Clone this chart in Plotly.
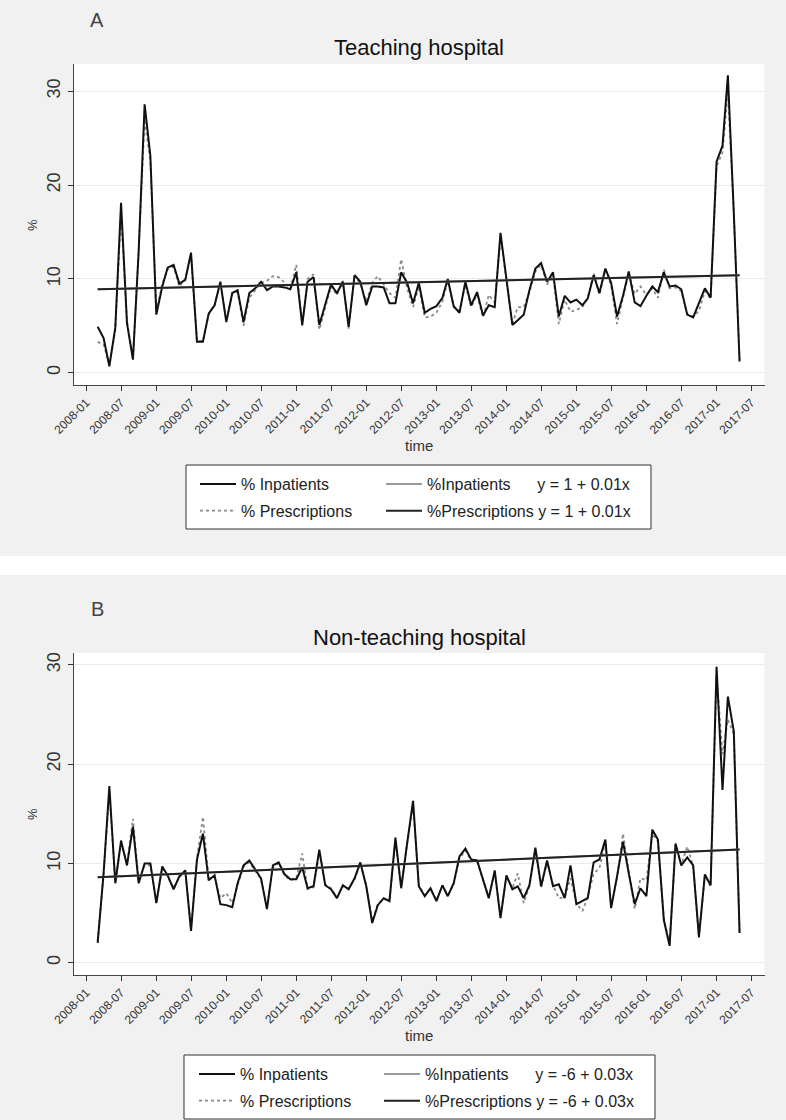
import pandas as pd
import plotly.graph_objects as go

# ---------------- data ----------------
months = pd.date_range("2008-03-01", "2017-05-01", freq="MS")  # monthly, 111 points

a_inpatients = [
    4.9, 3.7, 0.7, 4.8, 18.1, 5.3, 1.4, 13.0, 28.6, 23.1,
    6.2, 9.2, 11.2, 11.5, 9.5, 9.9, 12.8, 3.3, 3.3, 6.3,
    7.2, 9.7, 5.4, 8.5, 8.8, 5.4, 8.5, 9.0, 9.7, 8.8,
    9.2, 9.2, 9.1, 8.9, 10.7, 5.1, 9.7, 10.2, 5.1, 7.2,
    9.4, 8.5, 9.7, 4.9, 10.4, 9.7, 7.2, 9.2, 9.2, 9.1,
    7.4, 7.4, 10.7, 9.6, 7.4, 9.6, 6.4, 6.8, 7.1, 8.0,
    10.0, 7.1, 6.4, 9.7, 7.2, 8.6, 6.1, 7.2, 7.0, 14.9,
    10.1, 5.1, 5.6, 6.2, 8.8, 11.1, 11.7, 9.7, 10.7, 6.0,
    8.2, 7.5, 7.8, 7.2, 7.9, 10.4, 8.5, 11.1, 9.6, 6.0,
    8.2, 10.8, 7.5, 7.1, 8.2, 9.2, 8.6, 10.7, 9.2, 9.3,
    8.9, 6.2, 5.9, 7.4, 9.0, 8.0, 22.5, 24.2, 31.7, 17.0,
    1.2,
]
a_prescriptions = [
    3.3, 3.0, 0.9, 4.5, 17.0, 5.5, 1.6, 13.0, 27.0, 22.5,
    6.5, 9.5, 11.0, 11.3, 9.2, 10.0, 12.5, 3.4, 3.4, 6.2,
    7.3, 9.5, 5.6, 8.4, 8.6, 5.0, 8.0, 8.8, 9.6, 9.8,
    10.3, 10.2, 9.6, 9.0, 11.5, 5.0, 10.0, 10.5, 4.6, 7.0,
    9.2, 8.3, 9.8, 4.7, 10.3, 9.5, 7.6, 9.6, 10.3, 9.4,
    8.5, 8.0, 12.1, 9.0, 7.0, 9.2, 5.9, 6.0, 6.4, 7.6,
    9.8, 7.0, 6.6, 9.4, 7.0, 8.3, 5.9, 8.3, 7.5, 14.5,
    10.0, 5.2, 7.0, 7.0, 8.6, 10.8, 11.5, 9.4, 10.5, 5.2,
    7.8, 6.5, 6.7, 7.0, 8.0, 10.6, 8.3, 11.0, 9.3, 5.2,
    8.0, 10.6, 8.4, 9.2, 8.3, 9.0, 8.0, 11.0, 9.0, 9.1,
    8.7, 6.3, 6.0, 6.6, 8.7, 7.9, 22.0, 23.5, 30.0, 17.0,
    1.3,
]
b_inpatients = [
    2.0, 9.0, 17.8, 8.0, 12.3, 9.8, 13.7, 8.0, 10.0, 10.0,
    6.0, 9.7, 8.8, 7.4, 8.7, 9.3, 3.2, 10.4, 13.0, 8.3,
    8.8, 5.9, 5.8, 5.6, 8.0, 9.8, 10.3, 9.4, 8.5, 5.4,
    9.8, 10.1, 8.9, 8.4, 8.4, 9.6, 7.5, 7.7, 11.4, 7.8,
    7.4, 6.5, 7.8, 7.4, 8.5, 10.1, 7.7, 4.0, 5.8, 6.5,
    6.2, 12.6, 7.5, 12.0, 16.3, 7.7, 6.7, 7.5, 6.2, 7.8,
    6.7, 8.0, 10.7, 11.5, 10.4, 10.3, 8.4, 6.5, 9.3, 4.5,
    8.8, 7.4, 7.7, 6.5, 7.8, 11.6, 7.7, 10.3, 7.7, 7.9,
    6.5, 9.8, 5.9, 6.2, 6.5, 10.1, 10.4, 12.4, 5.5, 8.7,
    12.2, 9.0, 5.9, 7.5, 6.7, 13.4, 12.4, 4.3, 1.7, 12.0,
    9.8, 10.6, 9.8, 2.6, 8.9, 7.8, 29.8, 17.4, 26.8, 23.3,
    3.0,
]
b_prescriptions = [
    2.2, 9.0, 17.0, 8.3, 12.0, 10.0, 14.5, 8.2, 9.8, 9.8,
    6.2, 9.5, 8.7, 7.5, 8.6, 9.2, 3.4, 10.5, 14.7, 8.5,
    8.6, 6.5, 7.0, 6.0, 7.8, 9.7, 10.1, 9.3, 8.4, 5.6,
    9.6, 10.0, 8.8, 8.3, 8.5, 11.0, 7.4, 7.6, 11.0, 7.9,
    7.5, 6.6, 7.7, 7.5, 8.4, 10.0, 7.8, 4.2, 5.9, 6.4,
    6.3, 12.3, 7.6, 12.0, 16.0, 7.8, 6.8, 7.4, 6.3, 7.7,
    6.8, 7.9, 10.5, 11.3, 10.3, 10.2, 8.3, 6.6, 9.1, 4.7,
    8.7, 7.5, 9.0, 6.0, 7.7, 11.3, 7.5, 10.2, 7.8, 6.5,
    6.6, 8.5, 6.0, 5.2, 6.6, 9.0, 9.5, 12.2, 5.6, 8.6,
    13.0, 9.1, 5.4, 8.5, 8.3, 13.0, 12.2, 4.4, 1.8, 11.8,
    9.9, 11.7, 9.7, 2.5, 8.8, 7.7, 29.0, 21.0, 24.5, 23.0,
    3.1,
]

# linear-fit lines (value at first and last month)
fit_dates = [months[0], months[-1]]
a_fit_inpatients = [8.9, 10.4]
a_fit_prescriptions = [8.9, 10.4]
b_fit_inpatients = [8.6, 11.4]
b_fit_prescriptions = [8.6, 11.4]

a_equation = "y = 1 + 0.01x"
b_equation = "y = -6 + 0.03x"

panel_titles = ["Teaching hospital", "Non-teaching hospital"]
panel_letters = ["A", "B"]
y_ticks = [0, 10, 20, 30]

assert len(a_inpatients) == len(months) == len(a_prescriptions) == len(b_inpatients) == len(b_prescriptions)

# ---------------- layout helpers ----------------
W, H = 786, 1120
FONT = "Liberation Sans, Arial, sans-serif"
NB = "\u00a0"


def px(x):
    return x / W


def py(y):
    return 1 - y / H


fig = go.Figure()

panels = [
    dict(inp=a_inpatients, pres=a_prescriptions, fi=a_fit_inpatients, fp=a_fit_prescriptions,
         eq=a_equation, xa="x", ya="y", lg1="legend", lg2="legend2"),
    dict(inp=b_inpatients, pres=b_prescriptions, fi=b_fit_inpatients, fp=b_fit_prescriptions,
         eq=b_equation, xa="x2", ya="y2", lg1="legend3", lg2="legend4"),
]

for p in panels:
    fig.add_trace(go.Scatter(
        x=months, y=p["pres"], mode="lines", name="% Prescriptions",
        line=dict(color="#8a8a8a", width=1.8, dash="dot"),
        xaxis=p["xa"], yaxis=p["ya"], legend=p["lg1"], legendrank=2, legendgroup=p["lg1"] + "b",
        hoverinfo="skip"))
    fig.add_trace(go.Scatter(
        x=months, y=p["inp"], mode="lines", name="% Inpatients",
        line=dict(color="#111111", width=2),
        xaxis=p["xa"], yaxis=p["ya"], legend=p["lg1"], legendrank=1, legendgroup=p["lg1"] + "a",
        hoverinfo="skip"))
    fig.add_trace(go.Scatter(
        x=fit_dates, y=p["fi"], mode="lines",
        name="%Inpatients" + NB * 6 + p["eq"],
        line=dict(color="#9a9a9a", width=2),
        xaxis=p["xa"], yaxis=p["ya"], legend=p["lg2"], legendrank=1, legendgroup=p["lg2"] + "a",
        hoverinfo="skip"))
    fig.add_trace(go.Scatter(
        x=fit_dates, y=p["fp"], mode="lines",
        name="%Prescriptions" + NB + p["eq"],
        line=dict(color="#222222", width=2),
        xaxis=p["xa"], yaxis=p["ya"], legend=p["lg2"], legendrank=2, legendgroup=p["lg2"] + "b",
        hoverinfo="skip"))

xcommon = dict(
    type="date", range=["2007-10-27", "2017-09-08"],
    domain=[px(73.5), px(764.5)], automargin=False,
    tick0="2008-01-01", dtick="M6", tickformat="%Y-%m", tickangle=-45,
    ticks="outside", ticklen=5, tickwidth=1, tickcolor="#333333",
    showline=True, linecolor="#444444", linewidth=1,
    showgrid=False, zeroline=False,
    tickfont=dict(family=FONT, size=12, color="#333333"),
)
ycommon = dict(
    tickvals=y_ticks, tickangle=-90, automargin=False,
    ticks="outside", ticklen=5, tickwidth=1, tickcolor="#333333",
    showline=True, linecolor="#444444", linewidth=1,
    showgrid=True, gridcolor="#ebebeb", gridwidth=1, zeroline=False,
    tickfont=dict(family=FONT, size=18, color="#333333"),
)

legend_common = dict(
    orientation="v", xanchor="left", yanchor="top",
    bgcolor="rgba(0,0,0,0)", borderwidth=0,
    font=dict(family=FONT, size=16, color="#222222"),
    tracegroupgap=3, traceorder="grouped", itemwidth=36,
)

fig.update_layout(
    width=W, height=H,
    margin=dict(l=0, r=0, t=0, b=0, autoexpand=False),
    paper_bgcolor="#f1f1f1", plot_bgcolor="#ffffff",
    font=dict(family=FONT, color="#333333"),
    xaxis=dict(xcommon, anchor="y"),
    yaxis=dict(ycommon, anchor="x", domain=[py(385), py(64)], range=[-1.3, 32.9]),
    xaxis2=dict(xcommon, anchor="y2"),
    yaxis2=dict(ycommon, anchor="x2", domain=[py(975), py(653)], range=[-1.24, 31.2]),
    legend=dict(legend_common, x=px(195), y=py(467)),
    legend2=dict(legend_common, x=px(381), y=py(467)),
    legend3=dict(legend_common, x=px(194), y=py(1057)),
    legend4=dict(legend_common, x=px(379), y=py(1057)),
    showlegend=True,
)

# legend boxes and the white strip between the two panels
fig.add_shape(type="rect", xref="paper", yref="paper",
              x0=px(186), x1=px(651), y0=py(529), y1=py(465),
              fillcolor="#ffffff", line=dict(color="#333333", width=1), layer="below")
fig.add_shape(type="rect", xref="paper", yref="paper",
              x0=px(184), x1=px(655), y0=py(1119), y1=py(1055),
              fillcolor="#ffffff", line=dict(color="#333333", width=1), layer="below")
fig.add_shape(type="rect", xref="paper", yref="paper",
              x0=0, x1=1, y0=py(575), y1=py(556),
              fillcolor="#ffffff", line=dict(width=0), layer="below")

# titles and labels
ann = []
for title, letter, ty, ly, tmy, pcy in [
    (panel_titles[0], panel_letters[0], 48, 20, 445, 225),
    (panel_titles[1], panel_letters[1], 637, 609, 1035, 814),
]:
    ann.append(dict(text=title, x=px(419), y=py(ty), xref="paper", yref="paper",
                    showarrow=False, xanchor="center", yanchor="middle",
                    font=dict(family=FONT, size=22, color="#111111")))
    ann.append(dict(text=letter, x=px(97), y=py(ly), xref="paper", yref="paper",
                    showarrow=False, xanchor="center", yanchor="middle",
                    font=dict(family=FONT, size=20, color="#444444")))
    ann.append(dict(text="time", x=px(419), y=py(tmy), xref="paper", yref="paper",
                    showarrow=False, xanchor="center", yanchor="middle",
                    font=dict(family=FONT, size=15, color="#333333")))
    ann.append(dict(text="%", x=px(32), y=py(pcy), xref="paper", yref="paper",
                    showarrow=False, xanchor="center", yanchor="middle", textangle=-90,
                    font=dict(family=FONT, size=13, color="#333333")))
fig.update_layout(annotations=ann)

fig.write_html(
    "out.html",
    config={"displayModeBar": False},
    post_script="document.body.style.margin='0';document.body.style.overflow='hidden';",
)
